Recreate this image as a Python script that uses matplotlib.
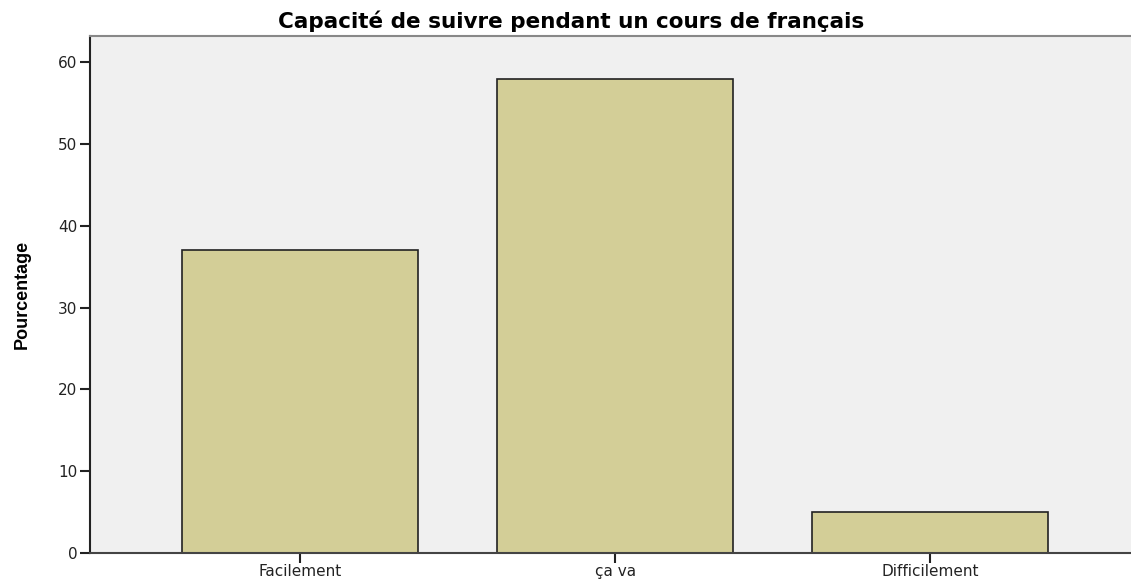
import matplotlib
matplotlib.use('Agg')
import matplotlib.pyplot as plt

categories = ['Facilement', 'ça va', 'Difficilement']
percentages = [37, 58, 5]
y_ticks = [0, 10, 20, 30, 40, 50, 60]

plt.rcParams['font.family'] = ['DejaVu Sans']

fig = plt.figure(figsize=(11.31, 5.79), dpi=100)
ax = fig.add_axes([90 / 1131, 1 - 553 / 579, 1 - 90 / 1131, (553 - 36) / 579])
ax.set_facecolor('#f0f0f0')

x = list(range(len(categories)))
ax.bar(x, percentages, width=0.75, color='#d3ce97', edgecolor='#222222', linewidth=1.2)

ax.set_xlim(-0.667, 2.638)
ax.set_ylim(0, 63.2)
ax.set_yticks(y_ticks)
ax.set_xticks(x)
ax.set_xticklabels(categories)
ax.tick_params(axis='both', direction='out', length=7, width=1.5, labelsize=11, colors='#222222')
ax.tick_params(axis='x', pad=1)
ax.tick_params(axis='y', pad=2)

ax.spines['right'].set_visible(False)
ax.spines['top'].set_color('#888888')
ax.spines['top'].set_linewidth(1.5)
ax.spines['left'].set_color('#222222')
ax.spines['left'].set_linewidth(1.5)
ax.spines['bottom'].set_color('#444444')
ax.spines['bottom'].set_linewidth(1.5)

fig.text(571 / 1131, 1 - 28 / 579, 'Capacité de suivre pendant un cours de français',
         fontsize=15.5, fontweight='bold', ha='center', va='baseline')
ax.set_ylabel('Pourcentage', fontsize=13, fontweight='bold',
              family=['Liberation Sans Narrow', 'Liberation Sans'], labelpad=20)

fig.savefig('out.png', dpi=100)
